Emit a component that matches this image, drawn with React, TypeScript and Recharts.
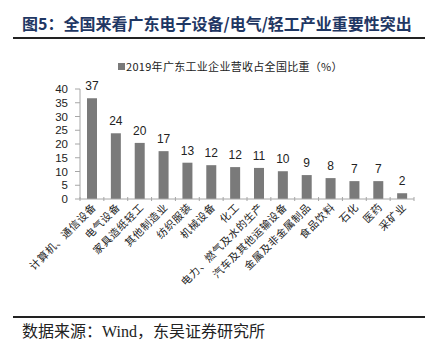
import { BarChart, Bar, XAxis, YAxis, LabelList } from 'recharts'

const categories = [
  '计算机、通信设备',
  '电气设备',
  '家具造纸轻工',
  '其他制造业',
  '纺织服装',
  '机械设备',
  '化工',
  '电力、燃气及水的生产',
  '汽车及其他运输设备',
  '金属及非金属制品',
  '食品饮料',
  '石化',
  '医药',
  '采矿业',
]
const shares = [36.6, 23.9, 20.4, 17.4, 13.2, 12.3, 11.6, 11.3, 10.1, 8.7, 7.6, 6.5, 6.5, 2.1]
const yTicks = [0, 5, 10, 15, 20, 25, 30, 35, 40]
const seriesName = '2019年广东工业企业营收占全国比重（%）'

const data = categories.map((name, i) => ({ name, value: shares[i] }))

const W = 437
const H = 356
const PLOT_LEFT = 80
const PLOT_RIGHT = 414
const STEP = (PLOT_RIGHT - PLOT_LEFT) / categories.length
const CJK = '"Noto Sans CJK SC", sans-serif'
const AXIS = '#a6a6a6'

function CategoryTick(props: any) {
  const { x, y, payload, index } = props
  return (
    <g>
      <line x1={x - STEP / 2} x2={x - STEP / 2} y1={y - 8} y2={y - 4} stroke={AXIS} />
      {index === categories.length - 1 && (
        <line x1={x + STEP / 2} x2={x + STEP / 2} y1={y - 8} y2={y - 4} stroke={AXIS} />
      )}
      <text
        x={x + 5}
        y={y + 3}
        transform={`rotate(-45 ${x + 5} ${y + 3})`}
        textAnchor="end"
        fontSize={10.5}
        fontFamily={CJK}
        letterSpacing={0.6}
        fill="#222"
      >
        {payload.value}
      </text>
    </g>
  )
}

export default function App() {
  return (
    <div style={{ position: 'absolute', left: 0, top: 0, width: W, height: H, background: '#fff' }}>
      {/* title + rules */}
      <div
        style={{
          position: 'absolute',
          left: 22,
          top: 13,
          fontSize: 16,
          fontWeight: 700,
          color: '#1f3763',
          fontFamily: CJK,
          whiteSpace: 'nowrap',
          lineHeight: '20px',
        }}
      >
        图5：全国来看广东电子设备/电气/轻工产业重要性突出
      </div>
      <div style={{ position: 'absolute', left: 13, top: 37, width: 412, height: 2, background: '#222' }} />
      <div style={{ position: 'absolute', left: 13, top: 316, width: 412, height: 2, background: '#222' }} />
      <div
        style={{
          position: 'absolute',
          left: 22,
          top: 322,
          fontSize: 16,
          color: '#222',
          fontFamily: '"Liberation Serif", "Noto Sans CJK SC", serif',
          whiteSpace: 'nowrap',
          lineHeight: '20px',
        }}
      >
        数据来源：Wind，东吴证券研究所
      </div>

      {/* legend */}
      <div
        style={{
          position: 'absolute',
          left: 118,
          top: 59,
          display: 'flex',
          alignItems: 'center',
          fontSize: 11,
          fontFamily: CJK,
          color: '#222',
          letterSpacing: 0.3,
          whiteSpace: 'nowrap',
          lineHeight: '14px',
        }}
      >
        <span style={{ width: 7, height: 7, background: '#7a7a7a', display: 'inline-block', marginRight: 1 }} />
        {seriesName}
      </div>

      <div style={{ position: 'absolute', left: 0, top: 0 }}>
        <BarChart
          width={W}
          height={H}
          data={data}
          margin={{ top: 89, right: W - PLOT_RIGHT, bottom: 37, left: 0 }}
          barCategoryGap={0}
          barSize={10}
        >
          <XAxis
            dataKey="name"
            interval={0}
            height={120}
            axisLine={{ stroke: AXIS }}
            tickLine={false}
            tick={<CategoryTick />}
            tickMargin={0}
          />
          <YAxis
            width={PLOT_LEFT}
            domain={[0, 40]}
            ticks={yTicks}
            interval={0}
            axisLine={{ stroke: AXIS }}
            tickLine={{ stroke: AXIS }}
            tickSize={5}
            tickMargin={7}
            tick={{ fontSize: 11.5, fill: '#222', fontFamily: 'Liberation Sans, Arial, sans-serif' }}
          />
          <Bar dataKey="value" name={seriesName} fill="#7a7a7a" isAnimationActive={false}>
            <LabelList
              dataKey="value"
              position="top"
              offset={8}
              formatter={(v: any) => Math.round(Number(v))}
              style={{ fontSize: 12, fill: '#222', fontFamily: 'Liberation Sans, Arial, sans-serif' }}
            />
          </Bar>
        </BarChart>
      </div>
    </div>
  )
}
